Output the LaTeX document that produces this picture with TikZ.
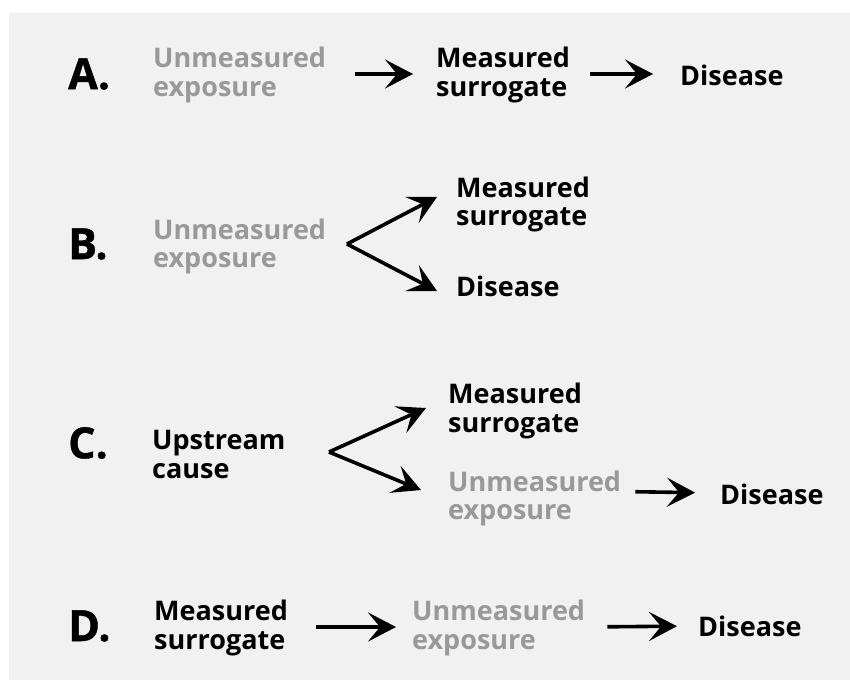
\documentclass[tikz,border=0pt]{standalone}
\usepackage{fontspec}
\setmainfont{Open Sans}
\newfontfamily\casefont[BoldFeatures={FakeBold=1}]{Open Sans}
\usetikzlibrary{arrows.meta}

\definecolor{panel}{HTML}{F1F1F1}
\definecolor{faded}{HTML}{999999}

\tikzset{
  caselbl/.style={font=\casefont\fontsize{43}{43}\selectfont\bfseries, anchor=west, inner sep=0pt},
  term/.style={font=\fontsize{27}{28.5}\selectfont\bfseries, anchor=west, align=left, inner sep=0pt},
  hidden/.style={term, text=faded},
  arr/.style={-{Stealth[length=28pt,width=29pt,inset=12pt]}, line width=3.6pt},
}

\begin{document}
\begin{tikzpicture}[x=1pt,y=-1pt]
  \useasboundingbox (0,0) rectangle (850,680);
  \fill[panel] (9,13) rectangle (850,680);

  % A: exposure -> surrogate -> disease
  \node[caselbl] (aLbl) at (68,74) {A.};
  \node[hidden, text width=171pt] (aExp) at (153,75) {Unmeasured\\exposure};
  \node[term, text width=131pt] (aSur) at (436,75) {Measured\\surrogate};
  \node[term, text width=103pt] (aDis) at (680,75) {Disease};
  \draw[arr, shorten <=31pt, shorten >=23pt] ([yshift=1pt]aExp.east) -- ([yshift=1pt]aSur.west);
  \draw[arr, shorten <=23pt, shorten >=27pt] ([yshift=1pt]aSur.east) -- ([yshift=1pt]aDis.west);

  % B: exposure causes both
  \node[caselbl] (bLbl) at (68,244) {B.};
  \node[hidden, text width=171pt] (bExp) at (153,246.5) {Unmeasured\\exposure};
  \node[term, text width=131pt] (bSur) at (456,204.5) {Measured\\surrogate};
  \node[term, text width=103pt] (bDis) at (456,286) {Disease};
  \coordinate (bFork) at (347,244);
  \draw[arr, shorten >=21.4pt] (bFork) -- ([yshift=17.5pt]bSur.west);
  \draw[arr, shorten >=21.4pt] (bFork) -- ([yshift=-15pt]bDis.west);

  % C: common upstream cause
  \node[caselbl] (cLbl) at (68,443) {C.};
  \node[term, text width=131pt] (cUp) at (152,454.5) {Upstream\\cause};
  \node[term, text width=131pt] (cSur) at (448,411) {Measured\\surrogate};
  \node[hidden, text width=171pt] (cExp) at (448,498.5) {Unmeasured\\exposure};
  \node[term, text width=103pt] (cDis) at (720,494) {Disease};
  \coordinate (cFork) at (329,452);
  \draw[arr, shorten >=24.2pt] (cFork) -- ([yshift=13pt]cSur.west);
  \draw[arr, shorten >=29.2pt] (cFork) -- ([yshift=-2.7pt]cExp.west);
  \draw[arr, shorten <=16pt, shorten >=25pt] ([yshift=7pt]cExp.east) -- ([yshift=1pt]cDis.west);

  % D: surrogate -> exposure -> disease
  \node[caselbl] (dLbl) at (68,626) {D.};
  \node[term, text width=131pt] (dSur) at (154,628) {Measured\\surrogate};
  \node[hidden, text width=171pt] (dExp) at (412,628) {Unmeasured\\exposure};
  \node[term, text width=103pt] (dDis) at (698,626) {Disease};
  \draw[arr, shorten <=31pt, shorten >=16pt] ([yshift=1pt]dSur.east) -- ([yshift=1pt]dExp.west);
  \draw[arr, shorten <=24pt, shorten >=21pt] ([yshift=1pt]dExp.east) -- (dDis.west);
\end{tikzpicture}
\end{document}
